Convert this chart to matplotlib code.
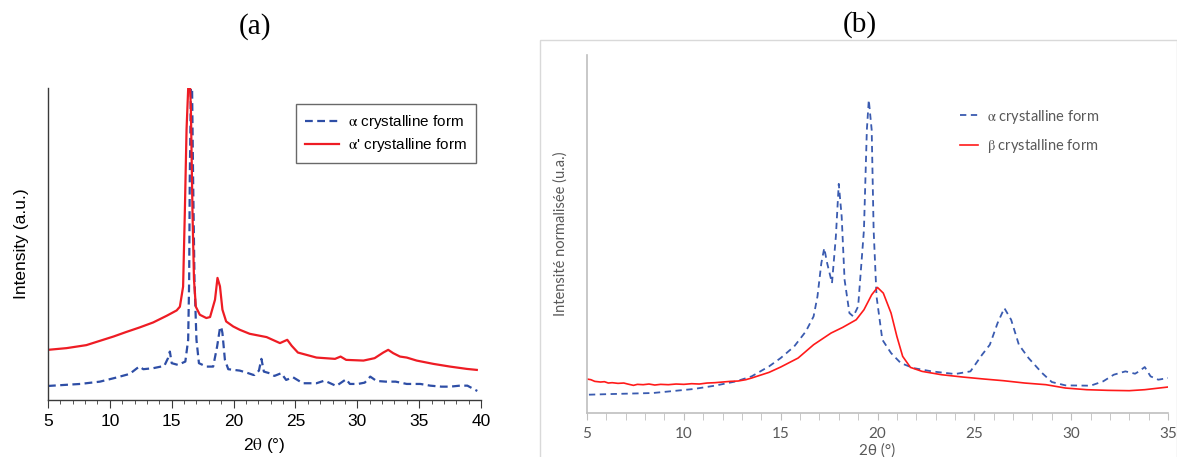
import matplotlib
matplotlib.use("Agg")
import matplotlib.pyplot as plt
from matplotlib.patches import Rectangle
from matplotlib.ticker import MultipleLocator

plt.rcParams['mathtext.fontset'] = 'stix'

# ---- panel (a): alpha vs alpha' (heights in a.u.)
a_alpha_x = [5.0, 7.6, 9.2, 10.5, 11.6, 12.2, 12.4, 12.7, 13.5, 14.4, 14.7, 14.85, 15.0, 15.5,
             16.1, 16.33, 16.41, 16.46, 16.55, 16.6, 16.73, 16.84, 17.0, 17.2, 17.8, 18.35,
             18.67, 18.9, 19.0, 19.1, 19.3, 19.57, 20.5, 21.05, 21.6, 21.7, 22.05, 22.25, 22.45,
             22.9, 23.3, 23.85, 24.25, 24.8, 25.6, 26.7, 27.35, 28.3, 29.1, 29.4, 30.05, 30.6,
             31.05, 31.55, 32.3, 33.1, 34.0, 35.1, 35.9, 36.8, 37.5, 38.3, 38.9, 39.7]
a_alpha_y = [14, 16, 18.3, 22.3, 26, 31.7, 33.3, 30.7, 31.7, 34, 41.7, 48.3, 36.7, 35,
             38.3, 60, 120, 220, 310, 360, 220, 120, 60, 36.7, 33.3, 33.3,
             53.3, 71.7, 73, 66.7, 40, 30.7, 29.3, 27.3, 25, 25, 29.3, 41, 28.3,
             26.7, 24, 26.7, 20, 22.7, 16.7, 16.7, 19.3, 14, 20.7, 16, 16, 17.3,
             23.3, 19, 18.3, 18.3, 16, 16, 14.3, 13.3, 13.3, 14.3, 14.3, 9]

a_prime_x = [5.0, 6.5, 8.1, 9.2, 10.3, 11.3, 12.4, 13.5, 14.6, 15.4, 15.66, 15.92, 16.06, 16.2,
             16.33, 16.4, 16.55, 16.68, 16.8, 16.95, 17.27, 17.8, 18.1, 18.5, 18.7, 18.9, 19.1,
             19.4, 19.97, 20.5, 21.3, 22.67, 23.75, 24.34, 24.7, 25.2, 26.7, 28.2, 28.65, 29.1,
             30.5, 31.4, 32.1, 32.5, 32.9, 33.45, 34.0, 34.8, 36.15, 37.5, 38.85, 39.66]
a_prime_y = [50, 51.7, 54.7, 59, 63.3, 67.7, 72.3, 77.3, 84, 89.3, 93, 113, 187, 270,
             310, 340, 290, 186.7, 120, 93, 85, 81.7, 82.7, 100, 121.7, 113.3, 90,
             78.3, 73.3, 70, 66, 62.7, 56.7, 60, 54, 47.3, 42.3, 41, 43.3, 40,
             39.3, 41.7, 47.3, 50, 46.7, 43.3, 42.3, 39.3, 36, 33.3, 31, 30]

# ---- panel (b): alpha vs beta (normalised intensity)
b_alpha_x = [5.1, 6.3, 8.4, 10.5, 11.6, 12.7, 13.5, 14.4, 15.0, 15.7, 16.3, 16.7, 16.9, 17.1,
             17.25, 17.4, 17.65, 17.85, 18.0, 18.15, 18.3, 18.55, 18.75, 19.0, 19.3, 19.45, 19.55,
             19.7, 19.8, 19.95, 20.25, 20.7, 21.2, 21.85, 22.8, 24.0, 24.8, 25.4, 25.8, 26.2,
             26.55, 26.9, 27.3, 27.8, 28.5, 29.0, 29.7, 31.0, 31.65, 32.2, 32.8, 33.3, 33.5,
             33.8, 34.1, 34.5, 35.0]
b_alpha_y = [5.5, 5.7, 6.0, 7.2, 8.2, 9.5, 11.0, 14.0, 16.5, 20.0, 24.5, 29.0, 35.0, 45.0,
             49.5, 45.0, 39.0, 53.0, 68.8, 59.0, 40.0, 30.0, 29.0, 32.0, 55.0, 85.0, 94.0,
             85.0, 55.0, 35.0, 22.0, 18.0, 15.0, 13.5, 12.5, 11.7, 12.5, 17.5, 20.5, 27.0,
             31.5, 28.0, 20.5, 16.5, 12.0, 9.3, 8.3, 8.2, 9.5, 11.5, 12.5, 11.8, 12.5,
             13.8, 11.0, 10.0, 10.5]

b_beta_x = [5.0, 5.2, 5.4, 5.7, 5.9, 6.1, 6.3, 6.6, 6.9, 7.1, 7.4, 7.6, 7.9, 8.2, 8.5, 8.8,
            9.2, 9.6, 10.0, 10.4, 10.8, 11.2, 11.6, 12.0, 12.4, 12.8, 13.2, 13.5, 14.4, 15.0,
            15.9, 16.7, 17.6, 18.2, 18.9, 19.3, 19.7, 20.0, 20.3, 20.7, 21.0, 21.3, 21.7,
            22.3, 23.3, 24.4, 25.5, 26.5, 27.6, 28.7, 29.7, 30.8, 31.9, 33.0, 33.8, 35.0]
b_beta_y = [10.2, 10.0, 9.5, 9.3, 9.4, 9.0, 9.1, 8.9, 9.0, 8.7, 8.3, 8.6, 8.5, 8.7, 8.4, 8.6,
            8.5, 8.7, 8.6, 8.8, 8.7, 9.0, 9.1, 9.3, 9.5, 9.6, 10.0, 10.5, 12.2, 13.8,
            16.5, 20.5, 24.0, 25.7, 28.0, 31.0, 35.5, 37.7, 36.0, 30.0, 23.0, 17.0, 13.7,
            12.5, 11.5, 10.8, 10.2, 9.7, 9.0, 8.5, 7.5, 7.0, 6.8, 6.7, 7.0, 7.8]

fig = plt.figure(figsize=(11.77, 4.57), dpi=100)

# ---------------- (a)
ax1 = fig.add_axes([48 / 1177, 57 / 457, 433 / 1177, 312 / 457])
ax1.plot(a_alpha_x, a_alpha_y, color='#2e4ea6', lw=1.6, dashes=(3.5, 2),
         label=r'$\mathrm{\alpha}$ crystalline form')
ax1.plot(a_prime_x, a_prime_y, color='#ee1c24', lw=1.6,
         label=r"$\mathrm{\alpha}$' crystalline form")
ax1.set_xlim(5, 40)
ax1.set_ylim(0, 311)
ax1.set_yticks([])
ax1.xaxis.set_major_locator(MultipleLocator(5))
ax1.xaxis.set_minor_locator(MultipleLocator(1))
for s in ['top', 'right']:
    ax1.spines[s].set_visible(False)
for s in ['left', 'bottom']:
    ax1.spines[s].set_color('#3a3a3a')
    ax1.spines[s].set_linewidth(1.0)
ax1.tick_params(axis='x', which='major', length=6, color='#3a3a3a', labelsize=12.5,
                labelfontfamily='Liberation Sans', pad=4)
ax1.tick_params(axis='x', which='minor', length=3, color='#3a3a3a')
ax1.set_xlabel(r'2$\mathrm{\theta}$ (°)', fontsize=12.5, family='Liberation Sans', labelpad=5)
ax1.set_ylabel('Intensity (a.u.)', fontsize=12.5, family='Liberation Sans', labelpad=14)
leg1 = ax1.legend(loc='upper right', bbox_to_anchor=(0.988, 0.948), fancybox=False,
                  edgecolor='#444444', prop={'family': 'Liberation Sans', 'size': 11},
                  handlelength=2.2, handletextpad=0.6, labelspacing=0.3, borderpad=0.6,
                  borderaxespad=0)
leg1.get_frame().set_linewidth(1.0)
fig.text(255 / 1177, 1 - 27 / 457, '(a)', family='Liberation Serif', fontsize=21,
         ha='center', va='center')

# ---------------- (b)
fig.patches.append(Rectangle((540 / 1177, -0.05), 637 / 1177, 1.05 - 40 / 457,
                             transform=fig.transFigure, fill=False,
                             edgecolor='#d9d9d9', lw=1.0))
ax2 = fig.add_axes([587 / 1177, 44 / 457, 581 / 1177, 358 / 457])
ax2.plot(b_alpha_x, b_alpha_y, color='#3a5bb0', lw=1.3, dashes=(3.5, 2.5),
         label=r'$\mathrm{\alpha}$ crystalline form')
ax2.plot(b_beta_x, b_beta_y, color='#ff1a1a', lw=1.2,
         label=r'$\mathrm{\beta}$ crystalline form')
ax2.set_xlim(5, 35)
ax2.set_ylim(0, 107.5)
ax2.set_yticks([])
ax2.xaxis.set_major_locator(MultipleLocator(5))
ax2.xaxis.set_minor_locator(MultipleLocator(1))
for s in ['top', 'right']:
    ax2.spines[s].set_visible(False)
for s in ['left', 'bottom']:
    ax2.spines[s].set_color('#bfbfbf')
    ax2.spines[s].set_linewidth(1.2)
ax2.tick_params(axis='x', which='both', length=5, color='#bfbfbf', labelsize=11,
                labelcolor='#595959', labelfontfamily='Lato', pad=5)
ax2.set_xlabel('2θ (°)', fontsize=11, color='#595959', family=['Lato', 'DejaVu Sans'],
               labelpad=2)
ax2.set_ylabel('Intensité normalisée (u.a.)', fontsize=10.5, color='#595959', family='Lato',
               labelpad=14)
leg2 = ax2.legend(loc='upper left', bbox_to_anchor=(0.62, 0.89), frameon=False,
                  prop={'family': 'Lato', 'size': 10.5}, handlelength=1.2,
                  handletextpad=0.6, labelspacing=0.8)
for t in leg2.get_texts():
    t.set_color('#595959')
fig.text(860 / 1177, 1 - 25 / 457, '(b)', family='Liberation Serif', fontsize=21,
         ha='center', va='center')

fig.savefig('out.png', dpi=100)
